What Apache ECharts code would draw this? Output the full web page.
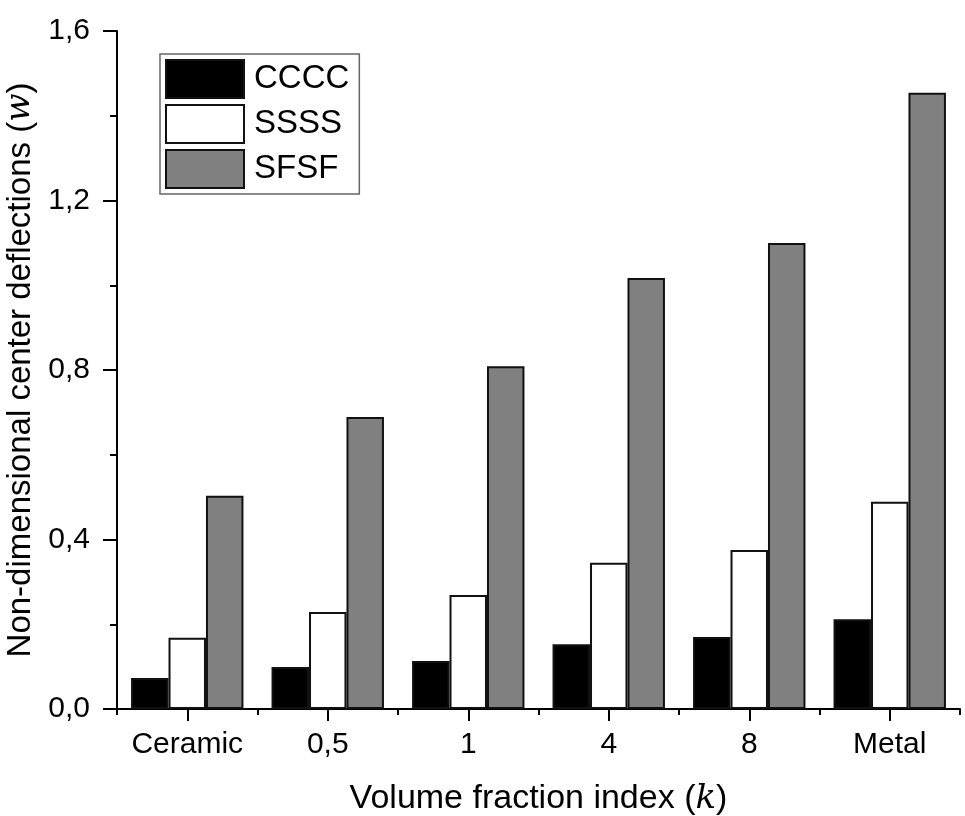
<!DOCTYPE html>
<html>
<head>
<meta charset="utf-8">
<script src="https://cdn.jsdelivr.net/npm/echarts@6/dist/echarts.min.js"></script>
<style>
  html, body { margin: 0; padding: 0; background: #fff; }
  #chart { width: 965px; height: 816px; }
</style>
</head>
<body>
<div id="chart"></div>
<script>
// categories and values
var categories = ['Ceramic', '0,5', '1', '4', '8', 'Metal'];
var cccc = [0.073, 0.099, 0.113, 0.153, 0.170, 0.212];
var ssss = [0.168, 0.229, 0.269, 0.345, 0.375, 0.489];
var sfsf = [0.503, 0.689, 0.809, 1.017, 1.100, 1.454];
var yTicks = [0, 0.4, 0.8, 1.2, 1.6];

var myChart = echarts.init(document.getElementById('chart'));
var font = 'Arial, "Liberation Sans", sans-serif';

function bar(name, data, color) {
	return {
		name: name,
		type: 'bar',
		data: data,
		barGap: '0%',
		barCategoryGap: '20%',
		itemStyle: { color: color, borderColor: '#111', borderWidth: 2 }
	};
}

var option = {
	backgroundColor: '#fff',
	animation: false,
	grid: { left: 117, right: 5, top: 31, bottom: 107, containLabel: false, outerBoundsMode: 'none' },
	legend: {
		left: 160, top: 54,
		orient: 'vertical',
		icon: 'rect',
		itemWidth: 78, itemHeight: 38, itemGap: 5,
		padding: [5, 10, 5, 5],
		borderColor: '#666', borderWidth: 1.5,
		textStyle: { fontSize: 33, color: '#000', fontFamily: font, padding: [0, 0, 0, 5] },
		data: [
			{ name: 'CCCC', itemStyle: { color: '#000', borderColor: '#111', borderWidth: 2 } },
			{ name: 'SSSS', itemStyle: { color: '#fff', borderColor: '#111', borderWidth: 2 } },
			{ name: 'SFSF', itemStyle: { color: '#808080', borderColor: '#111', borderWidth: 2 } }
		]
	},
	xAxis: [
		{
			type: 'category',
			data: categories,
			name: 'Volume fraction index ({i|k})',
			nameLocation: 'middle',
			nameGap: 73,
			nameTextStyle: {
				fontSize: 34, color: '#000', fontFamily: font,
				rich: { i: { fontSize: 34, fontStyle: 'italic', fontFamily: '"DejaVu Serif", serif', color: '#000' } }
			},
			axisLine: { lineStyle: { color: '#000', width: 2 } },
			axisTick: { show: true, alignWithLabel: true, length: 12, lineStyle: { color: '#000', width: 2 } },
			axisLabel: { interval: 0, fontSize: 30, color: '#000', fontFamily: font, margin: 21 },
			splitLine: { show: false }
		},
		{
			// short ticks at the category boundaries
			type: 'category',
			data: categories,
			position: 'bottom',
			axisLine: { show: false },
			axisTick: { show: true, interval: 0, alignWithLabel: false, length: 6, lineStyle: { color: '#000', width: 2 } },
			axisLabel: { show: false },
			splitLine: { show: false }
		}
	],
	yAxis: {
		type: 'value',
		min: 0, max: 1.6, interval: 0.4,
		name: 'Non-dimensional center deflections ({i|w})',
		nameLocation: 'middle',
		nameGap: 64,
		nameTextStyle: {
			fontSize: 33, color: '#000', fontFamily: font,
			rich: { i: { fontSize: 33, fontStyle: 'italic', fontFamily: '"DejaVu Serif", serif', color: '#000' } }
		},
		axisLine: { show: true, lineStyle: { color: '#000', width: 2 } },
		axisTick: { show: true, length: 14, lineStyle: { color: '#000', width: 2 } },
		minorTick: { show: true, splitNumber: 2, length: 7, lineStyle: { color: '#000', width: 2 } },
		axisLabel: {
			fontSize: 30, color: '#000', fontFamily: font, margin: 27,
			formatter: function(v) {
				var t = yTicks.filter(function(x) { return Math.abs(x - v) < 1e-6; });
				return t.length ? v.toFixed(1).replace('.', ',') : '';
			}
		},
		splitLine: { show: false }
	},
	series: [
		bar('CCCC', cccc, '#000'),
		bar('SSSS', ssss, '#fff'),
		bar('SFSF', sfsf, '#808080')
	]
};
myChart.setOption(option);
</script>
</body>
</html>
